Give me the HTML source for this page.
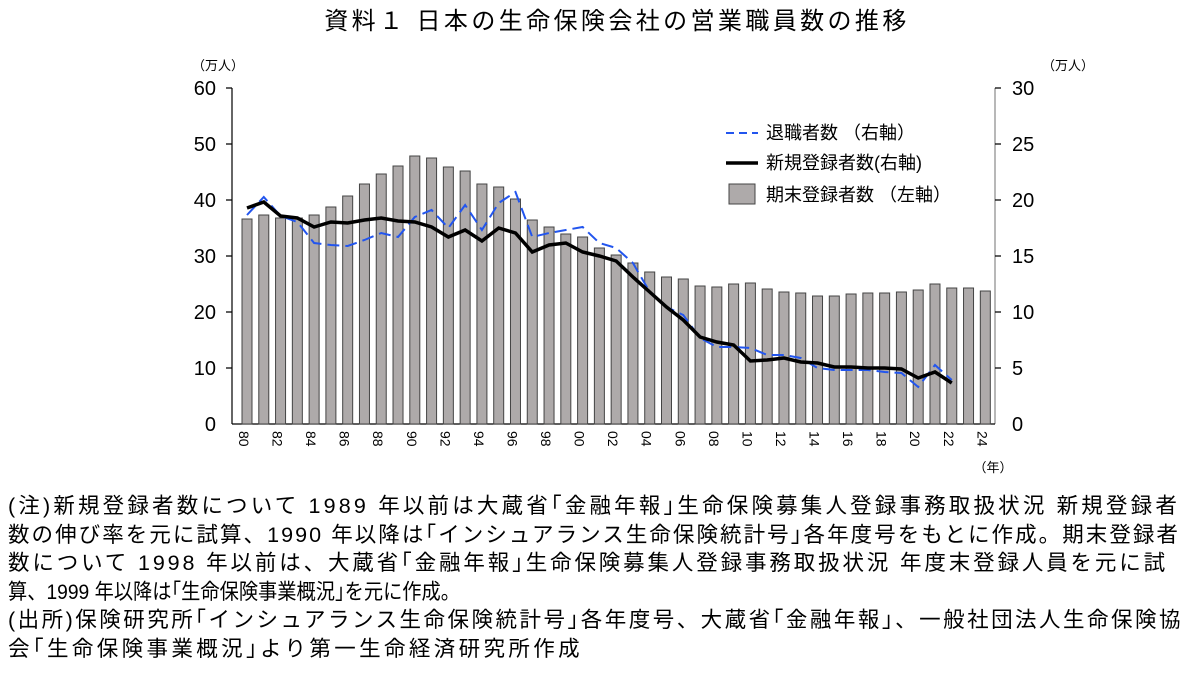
<!DOCTYPE html><html><head><meta charset="utf-8"><style>
body{margin:0;background:#fff;width:1201px;height:699px;overflow:hidden;font-family:"Liberation Sans","Noto Sans CJK JP",sans-serif;}
.n{position:absolute;left:8px;font-size:21.5px;line-height:28.5px;color:#000;white-space:nowrap;transform-origin:0 50%}
</style></head><body>
<svg width="1201" height="490" style="position:absolute;left:0;top:0" font-family="Liberation Sans, Noto Sans CJK JP, sans-serif">
<text x="617" y="29" font-size="24" letter-spacing="3.4" text-anchor="middle">資料１ 日本の生命保険会社の営業職員数の推移</text>
<text x="218" y="70" font-size="13" text-anchor="middle">（万人）</text>
<text x="1068" y="70" font-size="13" text-anchor="middle">（万人）</text>
<g font-size="20" text-anchor="end">
<text x="216" y="95">60</text><text x="216" y="151">50</text><text x="216" y="207">40</text><text x="216" y="263">30</text><text x="216" y="319">20</text><text x="216" y="375">10</text><text x="216" y="431">0</text></g>
<g font-size="20" text-anchor="start">
<text x="1012" y="95">30</text><text x="1012" y="151">25</text><text x="1012" y="207">20</text><text x="1012" y="263">15</text><text x="1012" y="319">10</text><text x="1012" y="375">5</text><text x="1012" y="431">0</text></g>
<g stroke="#000" stroke-width="1.2">
<line x1="232" y1="88" x2="232" y2="424"/><line x1="995" y1="88" x2="995" y2="424" stroke="#888"/>
<line x1="232" y1="424" x2="995" y2="424"/>
<path d="M226 88H232M226 144H232M226 200H232M226 256H232M226 312H232M226 368H232M995 88H1001M995 144H1001M995 200H1001M995 256H1001M995 312H1001M995 368H1001"/>
</g>
<g id="bars" fill="#aeaaaa" stroke="#444" stroke-width="1"></g>
<polyline id="blue" fill="none" stroke="#2255ee" stroke-width="2" stroke-dasharray="12,6"/>
<polyline id="blk" fill="none" stroke="#000" stroke-width="3.5"/>
<g id="xl" font-size="14"></g>
<text x="993" y="472" font-size="13" text-anchor="middle">（年）</text>
<line x1="726" y1="133" x2="758" y2="133" stroke="#2255ee" stroke-width="2" stroke-dasharray="8,5"/>
<text x="766" y="139" font-size="18">退職者数 （右軸）</text>
<line x1="726" y1="163" x2="758" y2="163" stroke="#000" stroke-width="3.5"/>
<text x="766" y="169" font-size="18">新規登録者数(右軸)</text>
<rect x="729" y="184" width="26" height="20" fill="#aeaaaa" stroke="#444"/>
<text x="766" y="201" font-size="18">期末登録者数 （左軸）</text>
</svg>
<div class="n" data-w="1172" style="top:492px">(注)新規登録者数について 1989 年以前は大蔵省｢金融年報｣生命保険募集人登録事務取扱状況 新規登録者</div>
<div class="n" data-w="1172" style="top:520.5px">数の伸び率を元に試算、1990 年以降は｢インシュアランス生命保険統計号｣各年度号をもとに作成。期末登録者</div>
<div class="n" data-w="1160" style="top:549px">数について 1998 年以前は、大蔵省｢金融年報｣生命保険募集人登録事務取扱状況 年度末登録人員を元に試</div>
<div class="n" data-w="452" style="top:577.5px">算、1999 年以降は｢生命保険事業概況｣を元に作成。</div>
<div class="n" data-w="1175" style="top:606px">(出所)保険研究所｢インシュアランス生命保険統計号｣各年度号、大蔵省｢金融年報｣、一般社団法人生命保険協</div>
<div class="n" data-w="575" style="top:634.5px">会｢生命保険事業概況｣より第一生命経済研究所作成</div>
<script>
document.querySelectorAll('.n').forEach(function(d){var w=d.getBoundingClientRect().width;var t=+d.getAttribute('data-w');var n=d.textContent.length;
if(w>t){d.style.transform='scaleX('+(t/w)+')';}else{d.style.letterSpacing=((t-w)/n)+'px';}});
var bt=[219,215,218,218,215,207,196,184,174,166,156,158,167,171,184,187,199,220,227,234,237,248,255,263,272,277,279,286,287,284,283,289,292,293,296,296,294,293,293,292,290,284,288,288,291];
var bk=[208,202,216,218,227,222,223,220,218,221,222,227,237,230,241,228,233,252,245,243,252,256,261,277,292,307,320,337,342,345,361,360,358,362,363,367,367,368,368,369,378,372,383];
var bl=[215,197,216,222,243,245,246,240,233,237,217,210,228,205,230,203,192,237,233,230,227,243,248,263,292,307,315,338,347,347,348,355,355,358,368,370,370,370,372,373,387,365,380];
var ns="http://www.w3.org/2000/svg",g=document.getElementById('bars'),xl=document.getElementById('xl');
function X(i){return 247+i*16.78;}
bt.forEach(function(t,i){var r=document.createElementNS(ns,'rect');r.setAttribute('x',X(i)-5);r.setAttribute('y',t);r.setAttribute('width',10);r.setAttribute('height',424-t);g.appendChild(r);
if(i%2==0){var tx=document.createElementNS(ns,'text');var y=(80+i)%100;tx.textContent=(y<10?'0':'')+y;tx.setAttribute('transform','translate('+(X(i)-8)+',431) rotate(90)');xl.appendChild(tx);}});
document.getElementById('blk').setAttribute('points',bk.map(function(v,i){return X(i)+','+v}).join(' '));
document.getElementById('blue').setAttribute('points',bl.map(function(v,i){return X(i)+','+v}).join(' '));
</script>
</body></html>
